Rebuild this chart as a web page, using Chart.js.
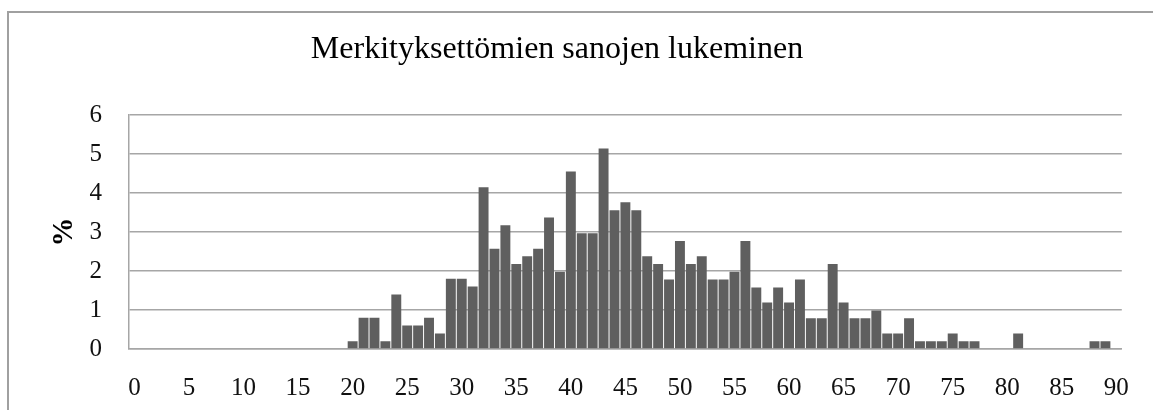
<!DOCTYPE html>
<html>
<head>
<meta charset="utf-8">
<script src="https://cdn.jsdelivr.net/npm/chart.js@4"></script>
<style>
  body { margin: 0; background: #fff; }
  #wrap { width: 1153px; height: 410px; position: relative; }
</style>
</head>
<body>
<div id="wrap"><canvas id="chart"></canvas></div>
<script>
const TITLE = "Merkityksettömien sanojen lukeminen";

// scores 0..90
const scores = [
  "0","1","2","3","4","5","6","7","8","9",
  "10","11","12","13","14","15","16","17","18","19",
  "20","21","22","23","24","25","26","27","28","29",
  "30","31","32","33","34","35","36","37","38","39",
  "40","41","42","43","44","45","46","47","48","49",
  "50","51","52","53","54","55","56","57","58","59",
  "60","61","62","63","64","65","66","67","68","69",
  "70","71","72","73","74","75","76","77","78","79",
  "80","81","82","83","84","85","86","87","88","89",
  "90"
];

// percent of readers per score
const percents = [
  0, 0, 0, 0, 0, 0, 0, 0, 0, 0,
  0, 0, 0, 0, 0, 0, 0, 0, 0, 0,
  0.2, 0.8, 0.8, 0.2, 1.4, 0.6, 0.6, 0.8, 0.4, 1.8,
  1.8, 1.6, 4.15, 2.57, 3.17, 2.18, 2.38, 2.57, 3.37, 1.98,
  4.55, 2.97, 2.97, 5.14, 3.56, 3.76, 3.56, 2.38, 2.18, 1.78,
  2.77, 2.18, 2.38, 1.78, 1.78, 1.98, 2.77, 1.58, 1.19, 1.58,
  1.19, 1.78, 0.79, 0.79, 2.18, 1.19, 0.79, 0.79, 0.99, 0.4,
  0.4, 0.79, 0.2, 0.2, 0.2, 0.4, 0.2, 0.2, 0, 0,
  0, 0.4, 0, 0, 0, 0, 0, 0, 0.2, 0.2,
  0
];

const xTickLabels = ["0","5","10","15","20","25","30","35","40","45","50","55","60","65","70","75","80","85","90"];

const GRID = "#a6a6a6";
const FONT = "'Liberation Serif', serif";

// excel style frame + title drawn at its own spot
const frame = {
  id: "frame",
  afterDraw(chart) {
    const ctx = chart.ctx;
    ctx.save();
    ctx.strokeStyle = "#a0a0a0";
    ctx.lineWidth = 2;
    ctx.beginPath();
    ctx.moveTo(8, 410);
    ctx.lineTo(8, 12);
    ctx.lineTo(1153, 12);
    ctx.stroke();
    ctx.fillStyle = "#000";
    ctx.font = "32px " + FONT;
    ctx.textAlign = "center";
    ctx.textBaseline = "alphabetic";
    ctx.fillText(TITLE, 557, 58);
    ctx.restore();
  }
};

new Chart(document.getElementById("chart"), {
  type: "bar",
  data: {
    labels: scores,
    datasets: [{
      data: percents,
      backgroundColor: "#5f5f5f",
      barPercentage: 0.91,
      categoryPercentage: 1
    }]
  },
  options: {
    responsive: true,
    maintainAspectRatio: false,
    animation: false,
    layout: { padding: { top: 115, right: 30, left: 0, bottom: 0 } },
    plugins: { legend: { display: false }, tooltip: { enabled: false } },
    scales: {
      x: {
        grid: { display: false, drawTicks: false },
        border: { display: true, color: GRID, width: 1.5 },
        ticks: {
          autoSkip: false,
          maxRotation: 0,
          padding: 24,
          color: "#111",
          font: { family: FONT, size: 25 },
          callback: function (v) {
            const lab = this.getLabelForValue(v);
            return xTickLabels.includes(lab) ? lab : "";
          }
        },
        afterFit: s => { s.height = 61; }
      },
      y: {
        min: 0,
        max: 6,
        grid: { color: GRID, lineWidth: 1.5, drawTicks: false },
        border: { display: true, color: GRID, width: 1.5 },
        ticks: {
          stepSize: 1,
          padding: 27,
          color: "#111",
          font: { family: FONT, size: 25 }
        },
        title: {
          display: true,
          text: "%",
          color: "#000",
          font: { family: FONT, size: 29, weight: "bold" },
          padding: { top: 47, bottom: 0 }
        },
        afterFit: s => { s.width = 129; }
      }
    }
  },
  plugins: [frame]
});
</script>
</body>
</html>
